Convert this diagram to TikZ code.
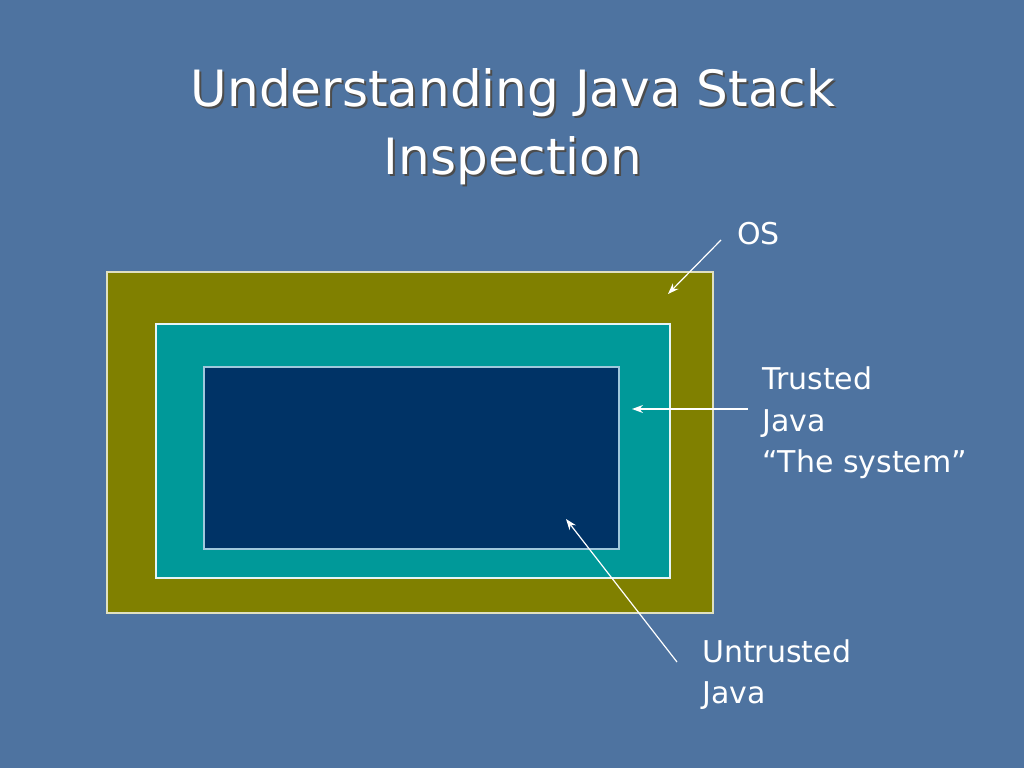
\documentclass[tikz,border=0pt]{standalone}
\usepackage{fontspec}
\setmainfont{DejaVu Sans}
\usetikzlibrary{arrows.meta}

\definecolor{slidebg}{HTML}{4E73A0}
\definecolor{osfill}{HTML}{808000}
\definecolor{sysfill}{HTML}{009999}
\definecolor{userfill}{HTML}{003366}

\begin{document}
\begin{tikzpicture}[x=1pt,y=-1pt,
        layer/.style={draw, line width=1.2pt},
        pointer/.style={draw=white, line width=1.2pt, -{Stealth[length=11pt,width=8pt]}},
        lbl/.style={text=white, font=\fontsize{30}{41}\selectfont, align=left, inner sep=0pt, anchor=north west}]
        \fill[slidebg] (0,0) rectangle (1024,768);
        \useasboundingbox (0,0) rectangle (1024,768);

        % title
        \node[text=black!70, font=\fontsize{50}{68}\selectfont, align=center, inner sep=0pt, anchor=north] (titleshadow) at (515,70) {Understanding Java Stack\\Inspection};
        \node[text=white, font=\fontsize{50}{68}\selectfont, align=center, inner sep=0pt, anchor=north] (title) at (513,68) {Understanding Java Stack\\Inspection};

        % nested layers
        \draw[layer, draw={rgb,255:red,224;green,224;blue,192}, fill=osfill] (107,272) rectangle (713,613);
        \draw[layer, draw=white!90!sysfill, fill=sysfill] (156,324) rectangle (670,578);
        \draw[layer, draw={rgb,255:red,160;green,200;blue,220}, fill=userfill] (204,367) rectangle (619,549);

        \coordinate (osend) at (668,294);
        \coordinate (sysend) at (632,409);
        \coordinate (userend) at (566,519);
        \coordinate (osstart) at (721,240);
        \coordinate (sysstart) at (748,409);
        \coordinate (userstart) at (677,662);

        \node[lbl] (oslbl) at (737,222) {OS};
        \node[lbl] (syslbl) at (762,367) {Trusted\\Java\\``The system''};
        \node[lbl] (userlbl) at (702,639) {Untrusted\\Java};

        \draw[pointer] (osstart) -- (osend);
        \draw[pointer] (sysstart) -- (sysend);
        \draw[pointer] (userstart) -- (userend);
\end{tikzpicture}
\end{document}
